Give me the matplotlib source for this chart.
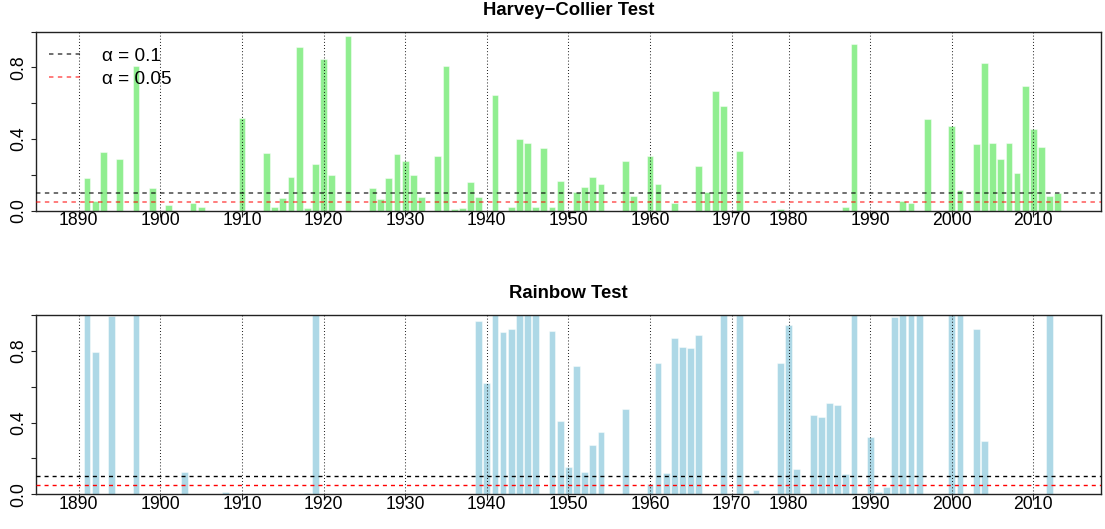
import numpy as np
import matplotlib
matplotlib.use("Agg")
import matplotlib.pyplot as plt
from matplotlib.lines import Line2D

plt.rcParams['font.family'] = ['Liberation Sans', 'DejaVu Sans']

# ---- data -------------------------------------------------------------
years = list(range(1890, 1974)) + list(range(1977, 2014))

hc_pvalues = (
    [0, .182, .052, .327, 0, .29, 0, .811, 0, .127] +          # 1890s
    [0, .032, 0, 0, .045, .022, 0, 0, 0, 0] +                  # 1900s
    [.517, 0, 0, .324, .019, .071, .186, .913, .013, .26] +    # 1910s
    [.845, .197, 0, .977, 0, 0, .127, .067, .184, .318] +      # 1920s
    [.279, .199, .078, 0, .305, .811, .009, .015, .16, .076] + # 1930s
    [0, .644, 0, .022, .398, .376, .022, .353, .019, .166] +   # 1940s
    [0, .104, .132, .186, .149, 0, 0, .277, .082, 0] +         # 1950s
    [.305, .149, 0, .045, 0, 0, .251, .104, .67, .584] +       # 1960s
    [0, .333, 0, 0] +                                          # 1970-1973
    [0, 0, .011] +                                             # 1977-1979
    [0, 0, 0, 0, 0, 0, 0, .02, .934, 0] +                      # 1980s
    [0, 0, 0, 0, .054, .043, 0, .513, 0, 0] +                  # 1990s
    [.473, .115, 0, .372, .824, .381, .288, .381, .21, .696] + # 2000s
    [.456, .355, .084, .099]                                   # 2010-2013
)

rainbow_pvalues = (
    [0, 1.0, .791, 0, .992, 0, 0, 1.0, 0, 0] +                 # 1890s
    [0, 0, 0, .125, 0, 0, 0, 0, .013, 0] +                     # 1900s
    [0, 0, 0, 0, 0, 0, 0, 0, .007, 1.0] +                      # 1910s
    [0, 0, 0, 0, 0, 0, 0, 0, 0, 0] +                           # 1920s
    [0, 0, 0, 0, 0, 0, 0, 0, 0, .969] +                        # 1930s
    [.621, 1.0, .906, .921, 1.0, 1.0, 1.0, 0, .912, .409] +    # 1940s
    [.154, .714, .123, .275, .348, 0, 0, .476, 0, 0] +         # 1950s
    [.058, .735, .121, .871, .822, .815, .891, 0, 0, 1.0] +    # 1960s
    [0, 1.0, 0, .026] +                                        # 1970-1973
    [0, 0, .735] +                                             # 1977-1979
    [.945, .14, 0, .443, .432, .508, .499, .112, 1.0, 0] +     # 1980s
    [.32, .013, .043, .988, 1.0, 1.0, 1.0, 0, 0, 0] +          # 1990s
    [1.0, 1.0, 0, .923, .298, 0, 0, 0, 0, 0] +                 # 2000s
    [0, 0, 1.0, 0]                                             # 2010-2013
)

alpha_levels = [0.1, 0.05]
alpha_labels = ['α = 0.1', 'α = 0.05']
y_ticks = [0, 0.2, 0.4, 0.6, 0.8, 1.0]
y_ticklabels = ['0.0', '', '0.4', '', '0.8', '']

# ---- figure -----------------------------------------------------------
W, H = 1105, 529
fig = plt.figure(figsize=(W / 100, H / 100), dpi=100)

ax1 = fig.add_axes([36 / W, 1 - 210.7 / H, 1064.7 / W, 179 / H])
ax2 = fig.add_axes([36 / W, 1 - 494.3 / H, 1064.7 / W, 179.3 / H])

x = np.arange(len(years))
decade_idx = [i for i, y in enumerate(years) if y % 10 == 0]
decade_lab = [str(years[i]) for i in decade_idx]
n = len(years)
bw = 1 / 1.2
pad = 0.04 * (n - 1 + bw)


def style_axes(ax):
    ax.set_xlim(-bw / 2 - pad, n - 1 + bw / 2 + pad)
    ax.set_ylim(0, 1)
    for s in ax.spines.values():
        s.set_linewidth(1.0)
        s.set_color('#222222')
    ax.set_xticks(decade_idx)
    ax.set_xticklabels(decade_lab, fontsize=12.7)
    ax.tick_params(axis='x', length=4.3, width=0.8, pad=-3.3, color='#222222')
    ax.set_yticks(y_ticks)
    ax.set_yticklabels(y_ticklabels, fontsize=12.7, rotation=90, va='center')
    ax.tick_params(axis='y', length=3.6, width=0.8, pad=3.0, color='#222222')
    for d in decade_idx:
        ax.axvline(d, color='black', lw=0.75, dashes=(0.8, 2.2), zorder=3)


# top panel
ax1.bar(x, hc_pvalues, width=bw, color='#90EE90', edgecolor=(1, 1, 1, 0.45),
        linewidth=0.8, zorder=2)
style_axes(ax1)
top_cols = [(0, 0, 0, 0.72), (1, 0, 0, 0.65)]
for lev, c in zip(alpha_levels, top_cols):
    ax1.axhline(lev, color=c, lw=1.1, dashes=(2.9, 2.9), zorder=4)
handles = [Line2D([], [], color=c, lw=1.1, dashes=(2.9, 2.9)) for c in top_cols]
ax1.legend(handles, alpha_labels, loc='upper left', bbox_to_anchor=(0.012, 0.91),
           frameon=False, fontsize=13.7, handlelength=1.8, handletextpad=1.0,
           labelspacing=0.28, borderaxespad=0, borderpad=0)

# bottom panel
ax2.bar(x, rainbow_pvalues, width=bw, color='#ADD8E6', edgecolor=(1, 1, 1, 0.45),
        linewidth=0.8, zorder=2)
style_axes(ax2)
for lev, c in zip(alpha_levels, ['black', 'red']):
    ax2.axhline(lev, color=c, lw=1.0, dashes=(2.9, 2.9), zorder=4)

cx = (36 + 1064.7 / 2) / W
fig.text(cx, 1 - 15 / H, 'Harvey\u2212Collier Test', ha='center', va='baseline',
         fontsize=13.3, fontweight='bold')
fig.text(cx, 1 - 298.3 / H, 'Rainbow Test', ha='center', va='baseline',
         fontsize=13.3, fontweight='bold')

fig.savefig('out.png', dpi=100)
